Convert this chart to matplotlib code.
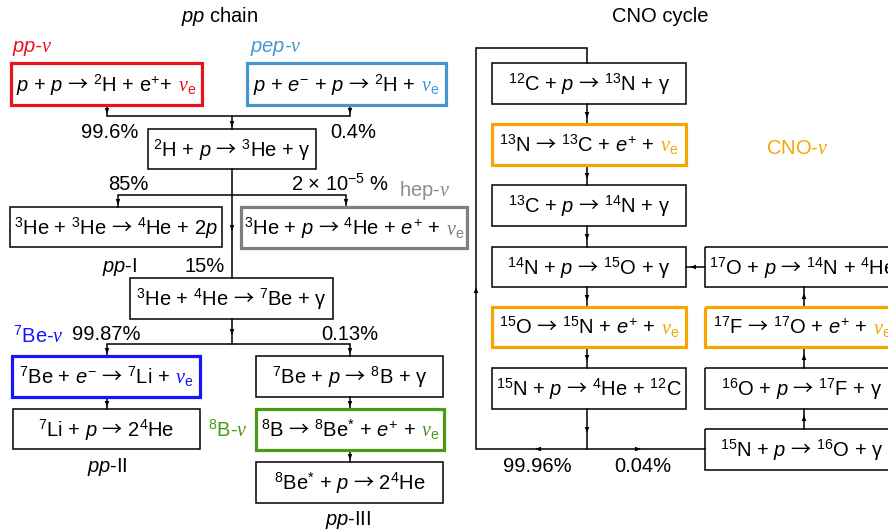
import matplotlib
matplotlib.use("Agg")
import matplotlib.pyplot as plt
from matplotlib.patches import Rectangle, Polygon
from matplotlib.offsetbox import TextArea, HPacker, AnnotationBbox

plt.rcParams['font.family'] = ['Liberation Sans', 'DejaVu Sans']
plt.rcParams['mathtext.fontset'] = 'custom'
plt.rcParams['mathtext.rm'] = 'Liberation Sans'
plt.rcParams['mathtext.it'] = 'Liberation Sans:italic'
plt.rcParams['mathtext.bf'] = 'Liberation Sans:bold'
plt.rcParams['mathtext.sf'] = 'Noto Sans CJK JP'          # thin reaction arrow
plt.rcParams['mathtext.cal'] = 'Liberation Serif:italic'  # serif nu

# ---------------------------
# colours of the neutrino sources
# ---------------------------
RED = '#e8141c'
PEP = '#4596cf'
HEP = '#7f7f7f'
BE7 = '#1414ff'
B8 = '#4a9a16'
CNO = '#f5a700'

NU = r'$\mathcal{\nu}_\mathrm{e}$'
AR = r'$\mathsf{→}$'
FS = 14.5

# ---------------------------
# diagram content (text)
# ---------------------------
reactions = [
    # pp chain
    r'$p$ + $p$ → $^{2}$H + e$^{+}$+',
    r'$p$ + $e^{-}$ + $p$ → $^{2}$H +',
    r'$^{2}$H + $p$ → $^{3}$He + γ',
    r'$^{3}$He + $^{3}$He → $^{4}$He + 2$p$',
    r'$^{3}$He + $p$ → $^{4}$He + $e^{+}$ +',
    r'$^{3}$He + $^{4}$He → $^{7}$Be + γ',
    r'$^{7}$Be + $e^{-}$ → $^{7}$Li +',
    r'$^{7}$Be + $p$ → $^{8}$B + γ',
    r'$^{7}$Li + $p$ → 2$^{4}$He',
    r'$^{8}$B → $^{8}$Be$^{*}$ + $e^{+}$ +',
    r'$^{8}$Be$^{*}$ + $p$ → 2$^{4}$He',
    # CNO cycle
    r'$^{12}$C + $p$ → $^{13}$N + γ',
    r'$^{13}$N → $^{13}$C + $e^{+}$ +',
    r'$^{13}$C + $p$ → $^{14}$N + γ',
    r'$^{14}$N + $p$ → $^{15}$O + γ',
    r'$^{15}$O → $^{15}$N + $e^{+}$ +',
    r'$^{15}$N + $p$ → $^{4}$He + $^{12}$C',
    r'$^{17}$O + $p$ → $^{14}$N + $^{4}$He',
    r'$^{17}$F → $^{17}$O + $e^{+}$ +',
    r'$^{16}$O + $p$ → $^{17}$F + γ',
    r'$^{15}$N + $p$ → $^{16}$O + γ',
]
# neutrino colour per reaction (None = no neutrino)
nu_colors = [RED, PEP, None, None, HEP, None, BE7, None, None, B8, None,
             None, CNO, None, None, CNO, None, None, CNO, None, None]

branch_labels = ['99.6%', '0.4%', '85%', r'2 × 10$^{-5}$ %', '15%',
                 '99.87%', '0.13%', '99.96%', '0.04%']
chain_labels = [r'$pp$-I', r'$pp$-II', r'$pp$-III']
titles = [r'$pp$ chain', 'CNO cycle']
source_labels = [r'$pp$-$\mathcal{\nu}$', r'$pep$-$\mathcal{\nu}$', r'hep-$\mathcal{\nu}$',
                 r'$^{7}$Be-$\mathcal{\nu}$', r'$^{8}$B-$\mathcal{\nu}$', r'CNO-$\mathcal{\nu}$']
source_colors = [RED, PEP, '#8c8c8c', BE7, B8, CNO]

# ---------------------------
# layout (pixels, y downwards)
# ---------------------------
box_rects = [
    (11, 63, 202, 105), (247, 63, 446, 105), (148, 129, 316, 169),
    (10, 207, 222, 247), (241, 207, 467, 248), (130, 278, 333, 319),
    (12, 356, 200, 397), (256, 356, 443, 397), (13, 409, 200, 449),
    (256, 409, 444, 450), (256, 462, 443, 503),
    (492, 63, 686, 104), (492, 124, 686, 165), (492, 185, 686, 226),
    (492, 247, 686, 287), (492, 307, 686, 347), (492, 368, 686, 409),
    (705, 247, 899, 287), (705, 307, 899, 347), (705, 368, 899, 409),
    (705, 429, 899, 470),
]
branch_pos = [(110, 133), (353, 133), (128, 184), (340, 184), (205, 267),
              (106, 335), (350, 335), (537, 467), (643, 467)]
chain_pos = [(120, 267), (107, 467), (348, 520)]
title_pos = [(220, 17), (660, 17)]
source_pos = [(12, 48, 'left'), (250, 48, 'left'), (425, 191, 'center'),
              (38, 336, 'center'), (228, 430, 'center'), (797, 148, 'center')]

lines = [
    [(107, 105), (107, 116), (350, 116), (350, 105)],
    [(232, 116), (232, 129)],
    [(232, 169), (232, 278)],
    [(118, 207), (118, 195), (346, 195), (346, 207)],
    [(232, 319), (232, 344)],
    [(107, 356), (107, 344), (350, 344), (350, 356)],
    [(107, 397), (107, 409)], [(350, 397), (350, 409)], [(350, 450), (350, 462)],
    # CNO
    [(587, 63), (587, 48), (476, 48), (476, 449), (705, 449)],
    [(587, 104), (587, 124)], [(587, 165), (587, 185)], [(587, 226), (587, 247)],
    [(587, 287), (587, 307)], [(587, 347), (587, 368)], [(587, 409), (587, 449)],
    [(804, 429), (804, 409)], [(804, 368), (804, 347)], [(804, 307), (804, 287)],
    [(705, 267), (686, 267)],
]
heads = [
    (107, 111, 'down'), (350, 111, 'down'), (232, 124, 'down'), (232, 228, 'down'),
    (118, 202, 'down'), (346, 202, 'down'), (232, 332, 'down'),
    (107, 351, 'down'), (350, 351, 'down'), (107, 404, 'down'), (350, 404, 'down'),
    (350, 457, 'down'),
    (587, 115, 'down'), (587, 176, 'down'), (587, 237, 'down'), (587, 298, 'down'),
    (587, 358, 'down'), (587, 430, 'down'), (476, 290, 'up'),
    (538, 449, 'left'), (638, 449, 'right'),
    (804, 418, 'up'), (804, 357, 'up'), (804, 296, 'up'), (693, 267, 'left'),
]

fig = plt.figure(figsize=(8.88, 5.32), dpi=100)
ax = fig.add_axes([0, 0, 1, 1])
ax.set_xlim(0, 888)
ax.set_ylim(532, 0)
ax.axis('off')

for pts in lines:
    xs, ys = zip(*pts)
    ax.plot(xs, ys, color='black', lw=1.1, solid_joinstyle='miter', zorder=1)


def head(x, y, d):
    dx, dy = {'down': (0, 1), 'up': (0, -1), 'left': (-1, 0), 'right': (1, 0)}[d]
    L, W = 6, 2.3
    tip = (x + dx * L / 2, y + dy * L / 2)
    bx, by = x - dx * L / 2, y - dy * L / 2
    px, py = -dy, dx
    ax.add_patch(Polygon([tip, (bx + px * W, by + py * W), (bx - px * W, by - py * W)],
                         closed=True, fc='black', ec='none', zorder=2))


for x, y, d in heads:
    head(x, y, d)

for rect, txt, nc in zip(box_rects, reactions, nu_colors):
    x0, y0, x1, y1 = rect
    edge = nc if nc else 'black'
    lw = 2.3 if nc else 1.1
    ax.add_patch(Rectangle((x0, y0), x1 - x0, y1 - y0, fill=False, ec=edge, lw=lw,
                           joinstyle='miter', zorder=3))
    txt = txt.replace('→', AR)
    parts = [TextArea(txt, textprops=dict(fontsize=FS, color='black'))]
    if nc:
        parts.append(TextArea(NU, textprops=dict(fontsize=FS, color=nc)))
    pack = HPacker(children=parts, align='baseline', pad=0, sep=4)
    ab = AnnotationBbox(pack, ((x0 + x1) / 2, (y0 + y1) / 2 + 1), frameon=False,
                        box_alignment=(0.5, 0.5), pad=0)
    ax.add_artist(ab)

for s, (x, y) in zip(branch_labels, branch_pos):
    ax.text(x, y, s, fontsize=FS, ha='center', va='center')
for s, (x, y) in zip(chain_labels, chain_pos):
    ax.text(x, y, s, fontsize=FS, ha='center', va='center')
for s, (x, y) in zip(titles, title_pos):
    ax.text(x, y, s, fontsize=FS, ha='center', va='center')
for s, c, (x, y, ha) in zip(source_labels, source_colors, source_pos):
    style = 'italic' if s.startswith(r'$p') else 'normal'
    ax.text(x, y, s, fontsize=FS, ha=ha, va='center', color=c, fontstyle=style)

fig.savefig('out.png', dpi=100)
